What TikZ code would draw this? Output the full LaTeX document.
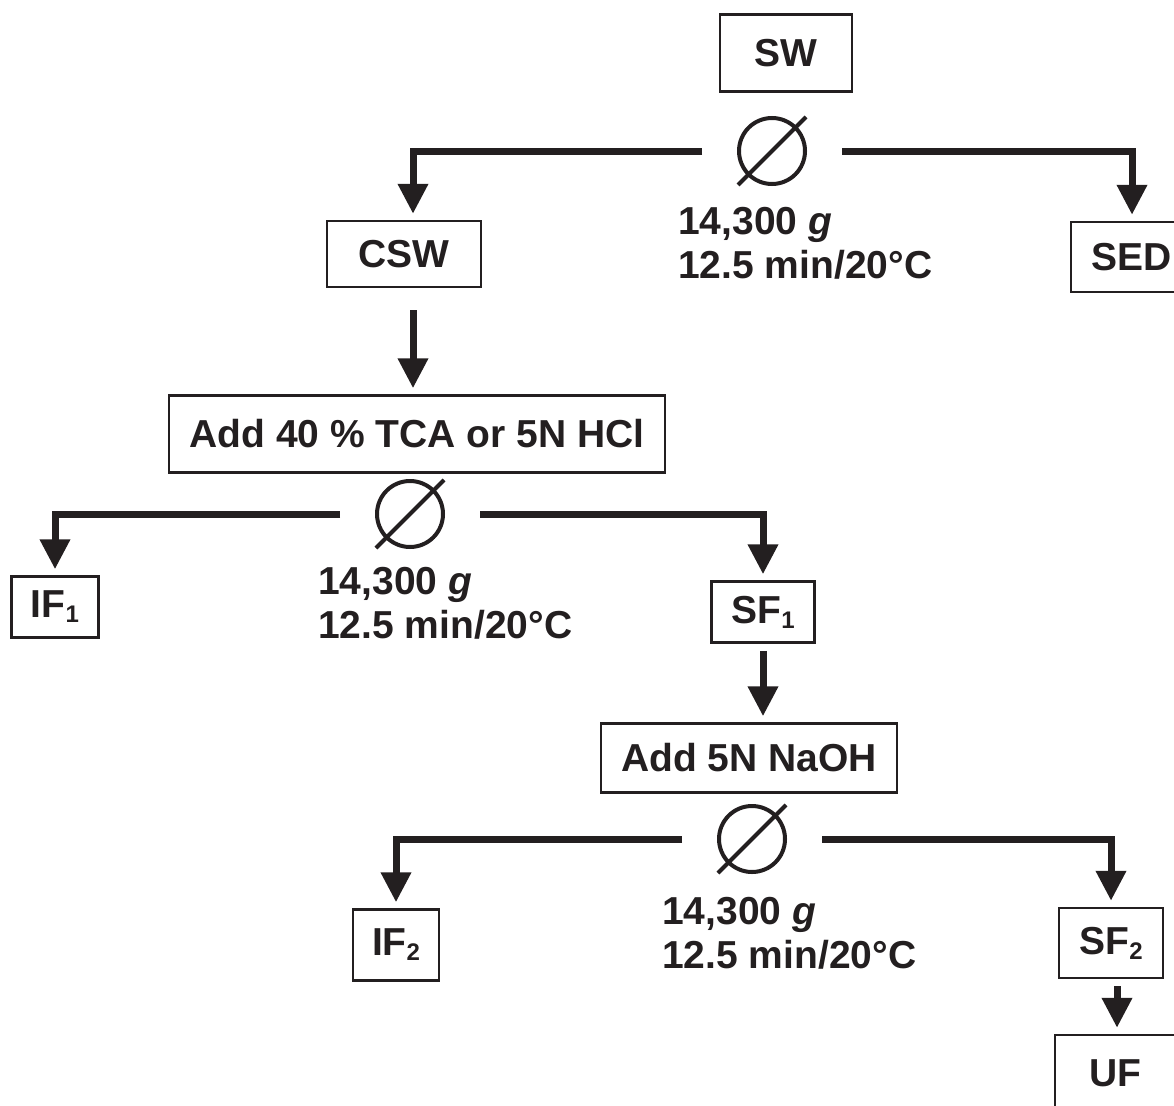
\documentclass[tikz,border=0pt]{standalone}
\usepackage{fontspec}
\setmainfont{Liberation Sans}
\usetikzlibrary{arrows.meta,positioning}
\definecolor{inkBlack}{RGB}{35,31,32}
\tikzset{
  sbox/.style={draw=inkBlack, line width=2.5pt, inner sep=0pt, text=inkBlack},
  cent/.style={circle, draw=inkBlack, line width=4pt, minimum size=66pt,
    inner sep=0pt, outer sep=37pt},
  slash/.style={draw=inkBlack, line width=4pt},
  cond/.style={anchor=north west, align=left, inner sep=0pt, text=inkBlack},
  arr/.style={-{Triangle[length=30pt,width=29pt]}, line width=7pt,
    draw=inkBlack, shorten >=6pt},
}
\newcommand{\sub}[1]{\raisebox{-5pt}{\fontsize{24}{24}\selectfont #1}}

\begin{document}
\begin{tikzpicture}[x=1pt, y=-1pt, font=\fontsize{39}{44}\selectfont\bfseries]
\useasboundingbox (0,0) rectangle (1174,1105);

%% FIRST SPIN
\node[sbox, minimum width=132pt, minimum height=77pt] (sw) at (786,53) {SW};
\node[cent] (cent1) at (772,151) {};
\draw[slash] ([shift={(-34,34)}]cent1.center) -- ([shift={(34,-34)}]cent1.center);
\node[cond] (cond1) at (678,207) {14,300 \textit{g}\\12.5 min/20°C};
\node[sbox, minimum width=154pt, minimum height=66pt] (csw) at (404,254) {CSW};
\node[sbox, minimum width=122pt, minimum height=70pt] (sed) at (1132,257) {SED};

%% ACID STEP
\node[sbox, minimum width=496pt, minimum height=77pt] (add40) at (417,434)
  {Add 40 \% TCA or 5N HCl};
\node[cent] (cent2) at (410,514) {};
\draw[slash] ([shift={(-34,34)}]cent2.center) -- ([shift={(34,-34)}]cent2.center);
\node[cond] (cond2) at (318,567) {14,300 \textit{g}\\12.5 min/20°C};
\node[sbox, minimum width=87pt, minimum height=61pt] (if1) at (55,607)
  {IF\sub{1}};
\node[sbox, minimum width=103pt, minimum height=61pt] (sf1) at (763,612)
  {SF\sub{1}};

%% BASE STEP
\node[sbox, minimum width=296pt, minimum height=69pt] (add5n) at (749,758)
  {Add 5N NaOH};
\node[cent] (cent3) at (752,839) {};
\draw[slash] ([shift={(-34,34)}]cent3.center) -- ([shift={(34,-34)}]cent3.center);
\node[cond] (cond3) at (662,897) {14,300 \textit{g}\\12.5 min/20°C};
\node[sbox, minimum width=86pt, minimum height=71pt] (if2) at (396,945)
  {IF\sub{2}};
\node[sbox, minimum width=104pt, minimum height=70pt] (sf2) at (1111,943)
  {SF\sub{2}};
\node[sbox, minimum width=120pt, minimum height=76pt] (uf) at (1115,1073) {UF};

%% ARROWS
\draw[arr] (cent1.west) -| ([xshift=9pt]csw.north);
\draw[arr] (cent1.east) -| (sed.north);
\draw[arr, shorten <=22pt] ([xshift=9pt]csw.south) -- ([xshift=9pt]csw.south |- add40.north);

\draw[arr] (cent2.west) -| (if1.north);
\draw[arr] (cent2.east) -| (sf1.north);
\draw[arr, shorten <=7pt] (sf1.south) -- (sf1.south |- add5n.north);

\draw[arr] (cent3.west) -| (if2.north);
\draw[arr] (cent3.east) -| (sf2.north);
\draw[arr, shorten <=7pt] ([xshift=6pt]sf2.south) -- ([xshift=6pt]sf2.south |- uf.north);

\end{tikzpicture}
\end{document}
